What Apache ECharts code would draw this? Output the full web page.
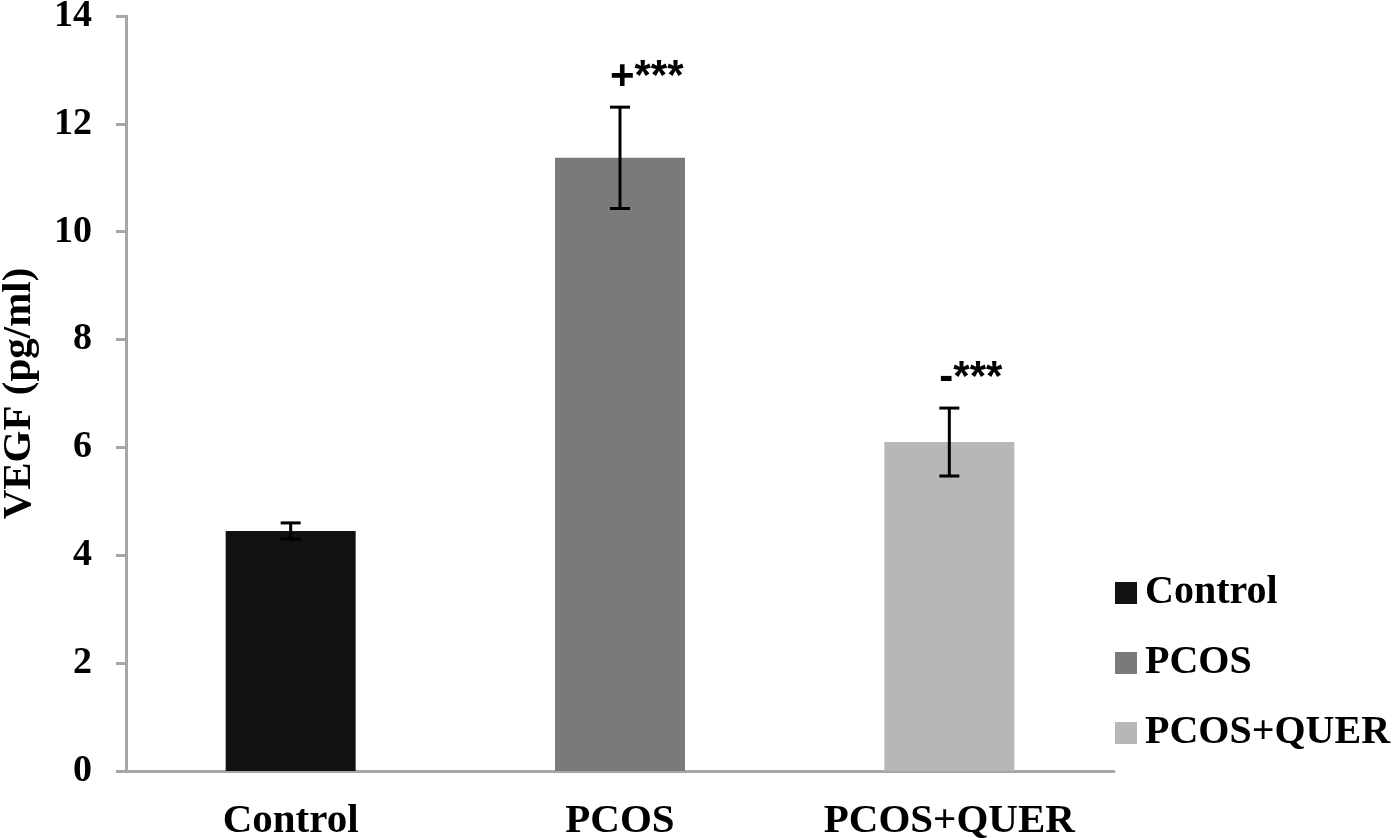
<!DOCTYPE html>
<html>
<head>
<meta charset="utf-8">
<script src="https://cdn.jsdelivr.net/npm/echarts@6/dist/echarts.min.js"></script>
<style>
  html, body { margin: 0; padding: 0; background: #fff; }
  #chart { width: 1399px; height: 840px; }
</style>
</head>
<body>
<div id="chart"></div>
<script>
// data
var categories = ['Control', 'PCOS', 'PCOS+QUER'];
var means = [4.45, 11.37, 6.10];
var errors = [0.15, 0.94, 0.63];
var marks = ['', '+***', '-***'];
var yTicks = [0, 2, 4, 6, 8, 10, 12, 14];

var colors = ['#111111', '#7a7a7a', '#b7b7b7'];
var serif = '"Liberation Serif", "Times New Roman", serif';

var myChart = echarts.init(document.getElementById('chart'));

var barSeries = categories.map(function (name, i) {
    return {
        name: name,
        type: 'bar',
        stack: 'g',
        barWidth: 130,
        itemStyle: { color: colors[i] },
        data: categories.map(function (c, j) { return j === i ? means[i] : '-'; })
    };
});

var errorSeries = {
    type: 'custom',
    name: 'err',
    z: 10,
    data: means.map(function (m, i) { return [i, m - errors[i], m + errors[i]]; }),
    renderItem: function (params, api) {
        var lo = api.coord([api.value(0), api.value(1)]);
        var hi = api.coord([api.value(0), api.value(2)]);
        var cap = 10;
        var style = { stroke: '#000', lineWidth: 3 };
        var children = [
            { type: 'line', shape: { x1: hi[0], y1: hi[1], x2: lo[0], y2: lo[1] }, style: style },
            { type: 'line', shape: { x1: hi[0] - cap, y1: hi[1], x2: hi[0] + cap, y2: hi[1] }, style: style },
            { type: 'line', shape: { x1: lo[0] - cap, y1: lo[1], x2: lo[0] + cap, y2: lo[1] }, style: style }
        ];
        var label = marks[params.dataIndex];
        if (label) {
            children.push({
                type: 'text',
                x: hi[0] - 10,
                y: hi[1] - 30,
                style: {
                    text: label,
                    fill: '#000',
                    font: 'bold 42px "Liberation Sans", Arial, sans-serif',
                    align: 'left',
                    verticalAlign: 'middle'
                }
            });
        }
        return { type: 'group', children: children };
    }
};

var option = {
    backgroundColor: '#fff',
    animation: false,
    grid: { left: 126, right: 285, top: 16, bottom: 69, outerBoundsMode: 'none', containLabel: false },
    legend: {
        data: categories,
        orient: 'vertical',
        left: 1110,
        top: 568,
        icon: 'rect',
        itemWidth: 22,
        itemHeight: 22,
        itemGap: 30,
        textStyle: { fontFamily: serif, fontWeight: 'bold', fontSize: 40, color: '#000', padding: [0, 0, 0, 3] }
    },
    xAxis: {
        type: 'category',
        data: categories,
        axisLine: { lineStyle: { color: '#a6a6a6', width: 3 } },
        axisTick: { length: 10, lineStyle: { color: '#a6a6a6', width: 3 } },
        axisLabel: { fontFamily: serif, fontWeight: 'bold', fontSize: 41, color: '#000', margin: 30 }
    },
    yAxis: {
        type: 'value',
        min: yTicks[0],
        max: yTicks[yTicks.length - 1],
        interval: 2,
        name: 'VEGF (pg/ml)',
        nameLocation: 'middle',
        nameGap: 86,
        nameTextStyle: { fontFamily: serif, fontWeight: 'bold', fontSize: 41, color: '#000' },
        splitLine: { show: false },
        axisLine: { show: true, lineStyle: { color: '#a6a6a6', width: 3 } },
        axisTick: { show: true, length: 10, lineStyle: { color: '#a6a6a6', width: 3 } },
        axisLabel: { fontFamily: serif, fontWeight: 'bold', fontSize: 38, color: '#000', margin: 34 }
    },
    series: barSeries.concat([errorSeries])
};

myChart.setOption(option);
</script>
</body>
</html>
